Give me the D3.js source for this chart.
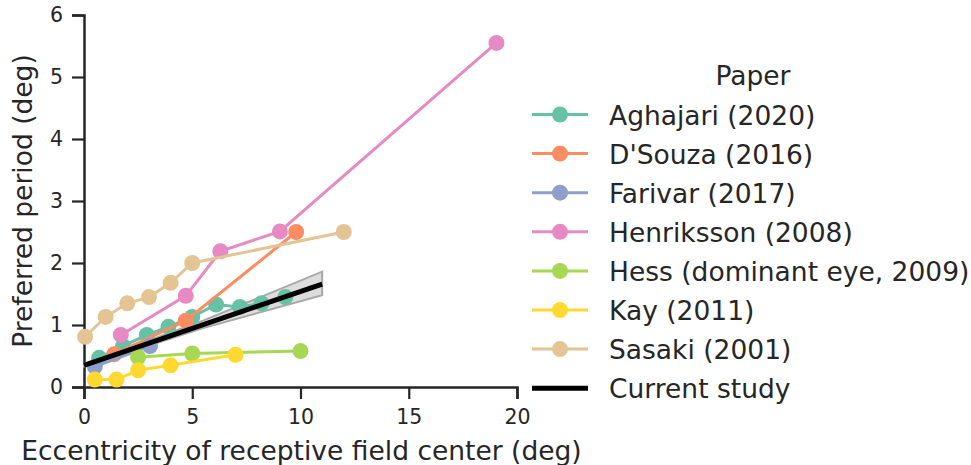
<!DOCTYPE html>
<html>
<head>
<meta charset="utf-8">
<script src="https://cdn.jsdelivr.net/npm/d3@7"></script>
<style>
  body { margin: 0; background: #fff; }
  svg text { font-family: "DejaVu Sans", sans-serif; fill: #262626; }
</style>
</head>
<body>
<div id="chart"></div>
<script>
// papers and their colours (Set2)
const papers = ['Aghajari (2020)', "D'Souza (2016)", 'Farivar (2017)', 'Henriksson (2008)',
                'Hess (dominant eye, 2009)', 'Kay (2011)', 'Sasaki (2001)']
const colors = ['#66c2a5', '#fc8d62', '#8da0cb', '#e78ac3', '#a6d854', '#ffd92f', '#e5c494']

// eccentricity (deg) / preferred period (deg)
const aghajariX = [0.7, 1.8, 2.9, 3.9, 5.0, 6.1, 7.2, 8.2, 9.3]
const aghajariY = [0.47, 0.66, 0.84, 0.97, 1.13, 1.33, 1.29, 1.35, 1.45]
const dsouzaX = [1.4, 4.7, 9.8]
const dsouzaY = [0.53, 1.07, 2.5]
const farivarX = [0.5, 3.05]
const farivarY = [0.33, 0.66]
const henrikssonX = [1.7, 4.7, 6.3, 9.05, 19.05]
const henrikssonY = [0.84, 1.47, 2.19, 2.51, 5.55]
const hessX = [2.5, 5.0, 10.0]
const hessY = [0.48, 0.54, 0.58]
const kayX = [0.5, 1.5, 2.5, 4.0, 7.0]
const kayY = [0.12, 0.12, 0.27, 0.35, 0.52]
const sasakiX = [0.05, 1.0, 2.0, 3.0, 4.0, 5.0, 12.0]
const sasakiY = [0.81, 1.13, 1.35, 1.45, 1.68, 2.0, 2.5]

const seriesX = [aghajariX, dsouzaX, farivarX, henrikssonX, hessX, kayX, sasakiX]
const seriesY = [aghajariY, dsouzaY, farivarY, henrikssonY, hessY, kayY, sasakiY]

// current study fit and its confidence band
const fitX = [0, 11]
const fitY = [0.35, 1.66]
const bandX = [0, 5.5, 11]
const bandLo = [0.33, 0.95, 1.48]
const bandHi = [0.37, 1.07, 1.86]

const xTicks = [0, 5, 10, 15, 20]
const yTicks = [0, 1, 2, 3, 4, 5, 6]

const width = 971
const height = 465
const margin = {left: 84, top: 15, right: 454, bottom: 78}

const svg = d3.select('#chart')
  .append('svg')
  .attr('width', width)
  .attr('height', height)

const x = d3.scaleLinear()
  .domain([0, 20])
  .range([margin.left, width - margin.right])

const y = d3.scaleLinear()
  .domain([0, 6])
  .range([height - margin.bottom, margin.top])

// axes
const xAxis = svg.append('g')
  .attr('transform', 'translate(0,' + (height - margin.bottom) + ')')
  .call(d3.axisBottom(x).tickValues(xTicks).tickFormat(d3.format('d')).tickSize(12).tickPadding(10))
const yAxis = svg.append('g')
  .attr('transform', 'translate(' + margin.left + ',0)')
  .call(d3.axisLeft(y).tickValues(yTicks).tickFormat(d3.format('d')).tickSize(12).tickPadding(9))

;[xAxis, yAxis].forEach(a => {
  a.select('.domain').attr('stroke', '#262626').attr('stroke-width', 2.5)
  a.selectAll('.tick line').attr('stroke', '#262626').attr('stroke-width', 2.2)
  a.selectAll('.tick text').style('font-size', '20.5px').attr('fill', '#262626')
})

svg.append('text')
  .attr('x', (x(0) + x(20)) / 2 + 1)
  .attr('y', 460)
  .attr('text-anchor', 'middle')
  .style('font-size', '26.5px')
  .text('Eccentricity of receptive field center (deg)')

svg.append('text')
  .attr('transform', 'translate(32,' + y(3) + ') rotate(-90)')
  .attr('text-anchor', 'middle')
  .style('font-size', '26.5px')
  .text('Preferred period (deg)')

// confidence band of current study
const band = bandX.map((v, i) => ({x: v, lo: bandLo[i], hi: bandHi[i]}))
svg.append('path')
  .datum(band)
  .attr('d', d3.area().x(d => x(d.x)).y0(d => y(d.lo)).y1(d => y(d.hi)))
  .attr('fill', '#cfcfcf')
  .attr('fill-opacity', 0.7)
  .attr('stroke', '#a8a8a8')
  .attr('stroke-width', 2)

// paper series
const line = d3.line().x(d => x(d[0])).y(d => y(d[1]))
papers.forEach((p, i) => {
  const pts = seriesX[i].map((v, j) => [v, seriesY[i][j]])
  const g = svg.append('g')
  g.append('path')
    .attr('d', line(pts))
    .attr('fill', 'none')
    .attr('stroke', colors[i])
    .attr('stroke-width', 3)
  g.selectAll('circle')
    .data(pts)
    .enter()
    .append('circle')
    .attr('cx', d => x(d[0]))
    .attr('cy', d => y(d[1]))
    .attr('r', 8)
    .attr('fill', colors[i])
})

// current study fit line
svg.append('path')
  .attr('d', line(fitX.map((v, i) => [v, fitY[i]])))
  .attr('stroke', '#000')
  .attr('stroke-width', 5)
  .attr('fill', 'none')

// legend
const legend = svg.append('g')
legend.append('text')
  .attr('x', 753)
  .attr('y', 85)
  .attr('text-anchor', 'middle')
  .style('font-size', '26.5px')
  .text('Paper')

const rowY = i => 114.5 + i * 39.1
papers.forEach((p, i) => {
  legend.append('line')
    .attr('x1', 532).attr('x2', 588)
    .attr('y1', rowY(i)).attr('y2', rowY(i))
    .attr('stroke', colors[i])
    .attr('stroke-width', 3)
  legend.append('circle')
    .attr('cx', 560).attr('cy', rowY(i))
    .attr('r', 8)
    .attr('fill', colors[i])
  legend.append('text')
    .attr('x', 609)
    .attr('y', rowY(i) + 10)
    .style('font-size', '26.5px')
    .text(p)
})
legend.append('line')
  .attr('x1', 532).attr('x2', 588)
  .attr('y1', rowY(7)).attr('y2', rowY(7))
  .attr('stroke', '#000')
  .attr('stroke-width', 5)
legend.append('text')
  .attr('x', 609)
  .attr('y', rowY(7) + 10)
  .style('font-size', '26.5px')
  .text('Current study')
</script>
</body>
</html>
